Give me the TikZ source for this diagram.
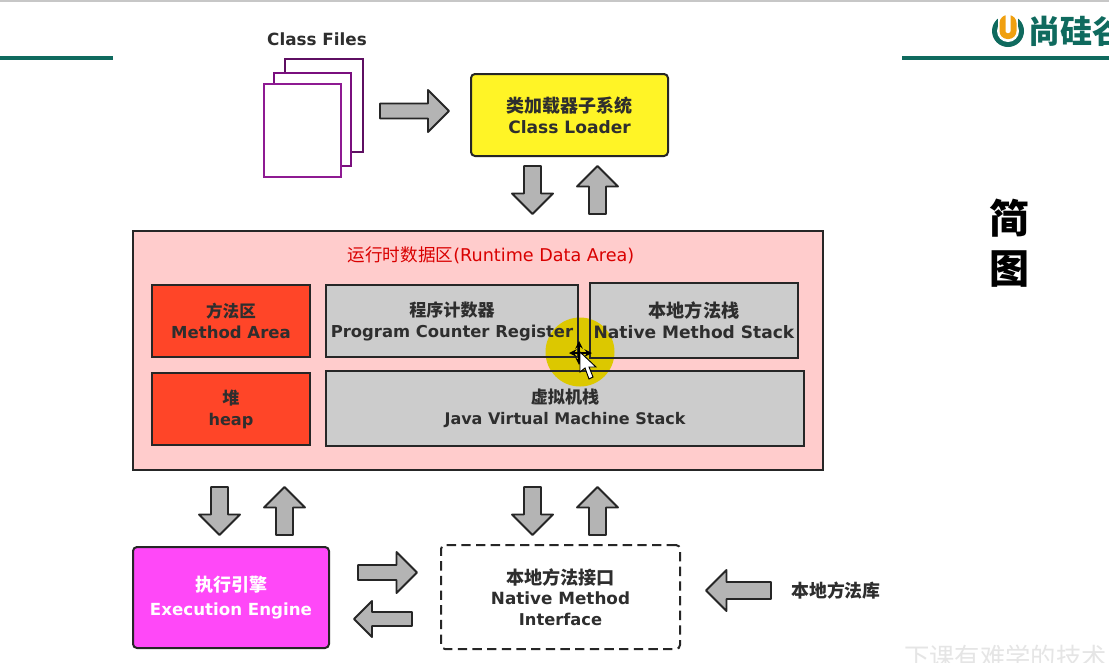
\documentclass[tikz,border=0pt]{standalone}
\usepackage{fontspec}
\setmainfont{DejaVu Sans}
\newfontfamily\cjk{Noto Sans CJK SC}
\usetikzlibrary{calc}
\definecolor{ink}{HTML}{2E2E2E}
\definecolor{arrowgray}{HTML}{B4B4B4}
\definecolor{teal}{HTML}{0F6A5E}
\definecolor{redbox}{HTML}{FF4528}
\definecolor{graybox}{HTML}{CCCCCC}
\definecolor{pinkbox}{HTML}{FFCCCC}
\definecolor{yellowbox}{HTML}{FFF426}
\definecolor{magentabox}{HTML}{FF48F8}
\definecolor{plumA}{HTML}{5E0F62}
\definecolor{plumB}{HTML}{7A0F7E}
\definecolor{plumC}{HTML}{8E1A92}
\definecolor{spot}{HTML}{DCC800}
\definecolor{logoorange}{HTML}{F0A010}
\newcommand\lat[2][12.4]{{\fontsize{#1}{15.6}\selectfont\bfseries #2}}
\newcommand\han[2][12.8]{{\cjk\fontsize{#1}{15.6}\selectfont\bfseries #2}}
\newcommand\bx[7]{\node[#6,minimum width={(#4-#2)*.75pt},minimum height={(#5-#3)*.75pt}] (#1) at ({(#2+#4)/2},{(#3+#5)/2}) {#7};}
% block arrow: centre x, centre y, angle, length, head width, shaft width
\newcommand\ar[6]{\draw[barrow,shift={(#1,#2)},rotate=#3]
  ({-(#4)/2},{-(#6)/2}) -- ({(#4)/2-(#5)/2},{-(#6)/2}) -- ({(#4)/2-(#5)/2},{-(#5)/2}) -- ({(#4)/2},0)
  -- ({(#4)/2-(#5)/2},{(#5)/2}) -- ({(#4)/2-(#5)/2},{(#6)/2}) -- ({-(#4)/2},{(#6)/2}) -- cycle;}
\tikzset{
  base/.style={draw=black!85,line width=1.5pt,inner sep=0pt,outer sep=0pt,align=center,text=ink,font=\fontsize{12}{15.6}\selectfont},
  page/.style={base,draw=#1,fill=white},
  mem/.style={base,fill=#1},
  barrow/.style={draw=black!85,fill=arrowgray,line width=1.4pt,line join=round},
  label/.style={inner sep=0pt,outer sep=0pt,align=center,text=ink},
}
\begin{document}
\begin{tikzpicture}[x=.75pt,y=-.75pt]
\useasboundingbox (0,0) rectangle (1109,662);
\clip (0,0) rectangle (1109,662);
\fill[white] (0,0) rectangle (1109,662);
\fill[black!22] (0,0) rectangle (1109,2);
% header rules
\coordinate (ruleLa) at (0,58); \coordinate (ruleLb) at (113,58);
\coordinate (ruleRa) at (902,58); \coordinate (ruleRb) at (1109,58);
\draw[teal,line width=3pt] (ruleLa) -- (ruleLb);
\draw[teal,line width=3pt] (ruleRa) -- (ruleRb);
% logo
\fill[teal] (1008,31) circle[radius=16];
\fill[white] (1008,31) circle[radius=11];
\fill[white] (998,12) rectangle (1018,31);
\fill[logoorange,rounded corners=6pt] (999.5,15) rectangle (1016.5,39);
\fill[white,rounded corners=1.5pt] (1005.5,12) rectangle (1010.5,33);
\node[label,text=teal,anchor=west] (logo) at (1028,31) {\cjk\fontsize{24}{26}\selectfont\bfseries 尚硅谷};
% side caption
\node[label,text=black] (capA) at (1009,218) {\cjk\fontsize{30}{32}\selectfont\bfseries 简};
\node[label,text=black] (capB) at (1009,269) {\cjk\fontsize{30}{32}\selectfont\bfseries 图};
% class files
\node[label] (cf) at (317,39) {\fontsize{12.6}{15}\selectfont\bfseries Class Files};
\bx{pc}{285}{59}{363}{152}{page=plumA}{}
\bx{pb}{274}{73}{351}{166}{page=plumB}{}
\bx{pa}{264}{84}{341}{177}{page=plumC}{}
\bx{cl}{471}{74}{668}{156}{mem=yellowbox,rounded corners=3pt}{\han[13.5]{类加载器子系统}\\\lat[12.8]{Class Loader}}
\ar{414.5}{111}{0}{69}{42}{15}
\ar{532.5}{190}{-90}{48}{41}{17}
\ar{597.5}{190}{90}{48}{41}{17}
% runtime data area
\bx{rda}{133}{231}{823}{470}{mem=pinkbox}{}
\node[label,text=red!85!black] (rdat) at (491,255) {\cjk\fontsize{13.2}{15}\selectfont 运行时数据区\fontspec{DejaVu Sans}\fontsize{13.2}{15}\selectfont(Runtime Data Area)};
\bx{ma}{152}{285}{310}{357}{mem=redbox}{\han[12.4]{方法区}\\\lat{Method Area}}
\bx{hp}{152}{373}{310}{445}{mem=redbox}{\han{堆}\\\lat[12.1]{heap}}
% box grounds, then the highlight, then the box outlines and their texts
\fill[graybox] (326,285) rectangle (578,357);
\fill[graybox] (590,283) rectangle (798,358);
\fill[graybox] (326,371) rectangle (804,446);
\fill[spot] (580,352) circle[radius=34.5];
\bx{pcr}{326}{285}{578}{357}{base}{\han{程序计数器}\\\lat[12.3]{Program Counter Register}}
\bx{nms}{590}{283}{798}{358}{base}{\han[13.6]{本地方法栈}\\\lat[12.8]{Native Method Stack}}
\bx{jvm}{326}{371}{804}{446}{base}{\han{虚拟机栈}\\\lat[12]{Java Virtual Machine Stack}}
\draw[black,line width=1.5pt,<->,>=stealth] (569,353) -- (592,353);
\draw[black,line width=1.5pt,<->,>=stealth] (579,341) -- (579,365);
\fill[white,draw=black,line width=.7pt] (580,352) -- (580,372) -- (585,368) -- (589,379) -- (593,377) -- (589,367) -- (596,367) -- cycle;
% lower arrows
\ar{219.5}{511}{-90}{48}{41}{17}
\ar{284.5}{511}{90}{48}{41}{17}
\ar{532.5}{511}{-90}{48}{41}{17}
\ar{597.5}{511}{90}{48}{41}{17}
\bx{ee}{133}{547}{329}{648}{mem=magentabox,rounded corners=3pt,text=white}{\han[13.5]{执行引擎}\\[2pt]\lat[12.5]{Execution Engine}}
\bx{nmi}{441}{545}{680}{649}{base,fill=white,dash pattern=on 7pt off 4pt,rounded corners=3pt}{\han[13.6]{本地方法接口}\\\lat[12.6]{Native Method}\\\lat[12.2]{Interface}}
\ar{387.5}{572.5}{0}{59}{41}{15}
\ar{383}{619}{180}{58}{36}{14}
\ar{738.5}{590.5}{180}{65}{41}{17}
\node[label] (lib) at (836,591) {\cjk\fontsize{13.4}{16}\selectfont\bfseries 本地方法库};
% watermark
\node[label,text=black!10,anchor=west] (wm) at (904,657) {\cjk\fontsize{19}{22}\selectfont 下课有难学的技术};
\end{tikzpicture}
\end{document}
